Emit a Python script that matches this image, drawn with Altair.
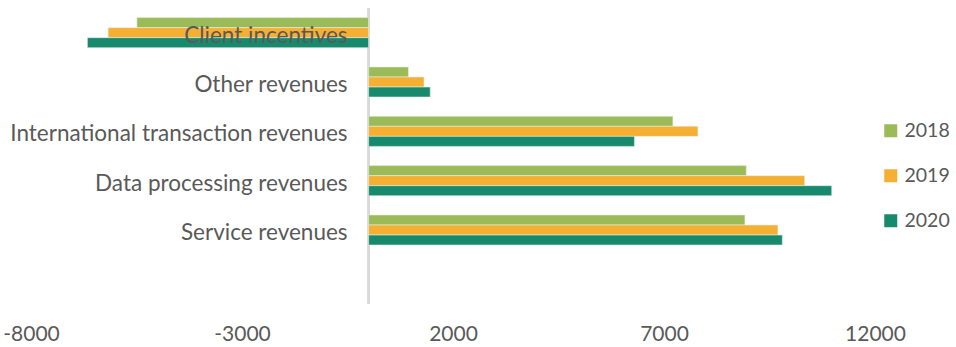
import altair as alt
import pandas as pd

categories = ["Client incentives", "Other revenues", "International transaction revenues",
              "Data processing revenues", "Service revenues"]
years = ["2018", "2019", "2020"]
values_2018 = [-5491, 944, 7211, 8950, 8918]
values_2019 = [-6173, 1313, 7804, 10333, 9700]
values_2020 = [-6664, 1460, 6299, 10975, 9804]
x_ticks = [-8000, -3000, 2000, 7000, 12000]
colors = ["#9BBB59", "#F5AF33", "#178A6E"]

rows = []
for yr, vals in zip(years, [values_2018, values_2019, values_2020]):
    for c, v in zip(categories, vals):
        rows.append({"category": c, "year": yr, "value": v})
df = pd.DataFrame(rows)
labels_df = pd.DataFrame({"category": categories})

FONT = "Lato"
GREY = "#595959"
y_domain = categories + [" "]

y_enc = alt.Y("category:N", scale=alt.Scale(domain=y_domain, paddingInner=0.39, paddingOuter=0.195), axis=None)
x_scale = alt.Scale(domain=[-8000, 12000], nice=False, zero=False)

bars = alt.Chart(df).mark_bar(stroke="#e6f0e0", strokeWidth=0.6).encode(
    y=y_enc,
    yOffset=alt.YOffset("year:N", sort=years),
    x=alt.X("value:Q", scale=x_scale,
            axis=alt.Axis(values=x_ticks, title=None, grid=False, domain=False, ticks=False,
                          labelExpr="'' + datum.value",
                          labelFont=FONT, labelFontSize=21, labelColor=GREY, labelPadding=19,
                          labelFlush=False)),
    color=alt.Color("year:N", sort=years, scale=alt.Scale(domain=years, range=colors),
                    legend=alt.Legend(title=None, orient="none", legendX=850, legendY=113,
                                      symbolType="square", symbolSize=169, symbolStrokeWidth=0,
                                      labelFont=FONT, labelFontSize=19.5, labelColor=GREY,
                                      rowPadding=24, labelOffset=4)),
)

zero_rule = alt.Chart(labels_df).mark_rule(color="#d9d9d9", strokeWidth=2).encode(
    x=alt.datum(0)
)

labels = alt.Chart(labels_df).mark_text(align="right", baseline="middle", dx=-21, dy=3,
                                        font=FONT, fontSize=22.5, color=GREY).encode(
    y=y_enc,
    x=alt.datum(0),
    text="category:N",
)

chart = alt.layer(zero_rule, bars, labels).properties(
    width=844, height=296,
    background="white",
    autosize=alt.AutoSizeParams(type="none"),
    padding={"left": 31, "top": 8, "right": 81, "bottom": 43},
).configure_view(strokeWidth=0, stroke=None)

chart.save("out.html", embed_options={"renderer": "svg", "actions": False})
